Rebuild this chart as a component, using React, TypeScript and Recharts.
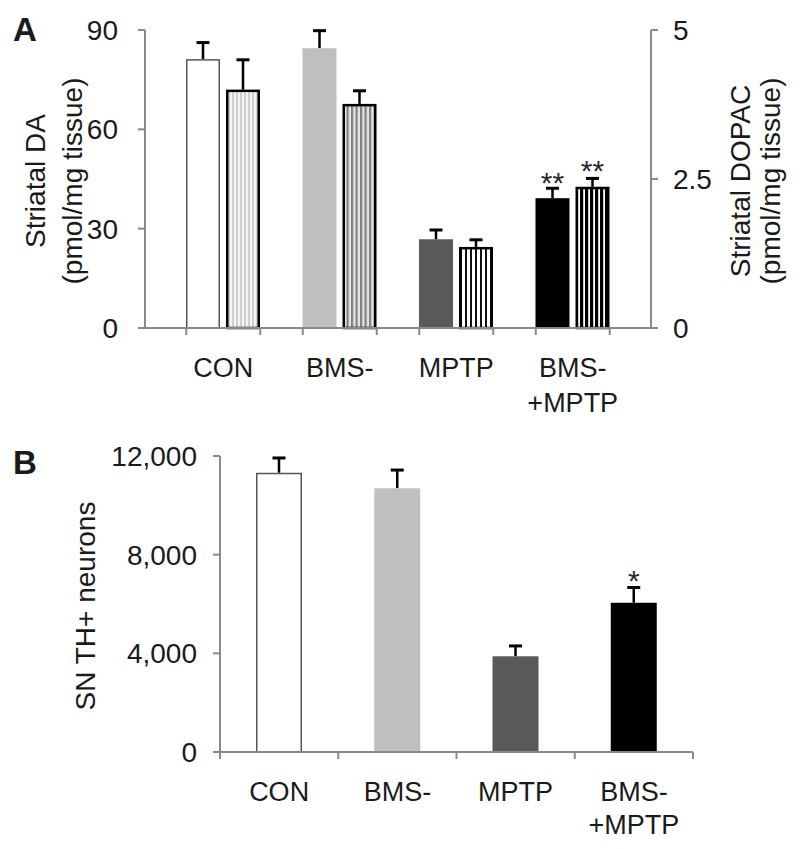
import { Bar, BarChart, Label, XAxis, YAxis } from "recharts";

// Panel A: striatal DA (left axis) and DOPAC (right axis), per treatment group.
// Panel B: SN TH+ neuron counts.
const groups = ["CON", "BMS-", "MPTP", "BMS-\n+MPTP"];

const daValues = [81.2, 84.5, 26.8, 39.2];
const daErrors = [5.0, 5.3, 2.8, 3.0];
const daMarks = ["", "", "", "**"];
const daTicks = [0, 30, 60, 90];

const dopacValues = [4.0, 3.76, 1.36, 2.37];
const dopacErrors = [0.5, 0.22, 0.12, 0.14];
const dopacMarks = ["", "", "", "**"];
const dopacTicks = [0, 2.5, 5];

const thValues = [11320, 10690, 3880, 6050];
const thErrors = [600, 740, 420, 620];
const thMarks = ["", "", "", "*"];
const thTicks = [0, 4000, 8000, 12000];

const FONT = "'Liberation Sans', Arial, Helvetica, sans-serif";
const INK = "#1a1a1a";
const AXIS = "#8a8a8a";
const A_BAR = 34;
const A_GAP = 6;

type BarLook = { fill: string; stroke: string; strokeWidth: number };

const solidLooks: BarLook[] = [
  { fill: "#ffffff", stroke: "#555555", strokeWidth: 1.5 },
  { fill: "#bfbfbf", stroke: "none", strokeWidth: 0 },
  { fill: "#595959", stroke: "none", strokeWidth: 0 },
  { fill: "#000000", stroke: "none", strokeWidth: 0 },
];

const hatchLooks: BarLook[] = [
  { fill: "url(#hatch-con)", stroke: "#000", strokeWidth: 2.5 },
  { fill: "url(#hatch-bms)", stroke: "#000", strokeWidth: 2.5 },
  { fill: "url(#hatch-mptp)", stroke: "#000", strokeWidth: 2.5 },
  { fill: "url(#hatch-both)", stroke: "#000", strokeWidth: 2.5 },
];

const panelA = groups.map((group, i) => ({
  group,
  da: daValues[i],
  dopac: dopacValues[i],
}));

const panelB = groups.map((group, i) => ({
  group,
  pos: i + 0.5,
  th: thValues[i],
}));

const bTicks = Array.from({ length: groups.length * 2 + 1 }, (_, i) => i / 2);

// Bar with an upward-only error bar (and optional significance mark), the
// error length scaled from the bar's own pixel height / value.
function errorBarShape(
  dataKey: string,
  errors: number[],
  marks: string[],
  looks: BarLook[],
  markDy: number,
) {
  return (props: any) => {
    const { x, y, width, height, index, payload } = props;
    const look = looks[index];
    const v = payload[dataKey];
    const errPx = v ? (height / v) * errors[index] : 0;
    const cx = x + width / 2;
    const top = y - errPx;
    const inset = look.strokeWidth / 2;
    return (
      <g>
        <line x1={cx} x2={cx} y1={y} y2={top} stroke="#000" strokeWidth={2.5} />
        <line
          x1={cx - 6.5}
          x2={cx + 6.5}
          y1={top}
          y2={top}
          stroke="#000"
          strokeWidth={3}
        />
        <rect
          x={x + inset}
          y={y + inset}
          width={width - 2 * inset}
          height={Math.max(0, height - inset)}
          fill={look.fill}
          stroke={look.stroke}
          strokeWidth={look.strokeWidth}
        />
        {marks[index] ? (
          <text
            x={cx}
            y={top + markDy}
            textAnchor="middle"
            fontSize={30}
            fill="#2a2a2a"
            fontFamily={FONT}
          >
            {marks[index]}
          </text>
        ) : null}
      </g>
    );
  };
}

function GroupLabel({ x, y, text, lineGap }: { x: number; y: number; text: string; lineGap: number }) {
  return (
    <text textAnchor="middle" fontSize={27} fill={INK} fontFamily={FONT}>
      {text.split("\n").map((line, i) => (
        <tspan key={line} x={x} y={y + 49 + i * lineGap}>
          {line}
        </tspan>
      ))}
    </text>
  );
}

// Panel A: tick marks sit at the outer edges of each bar pair.
function PairTick(props: any) {
  const { x, y, payload } = props;
  const half = A_BAR + A_GAP / 2;
  return (
    <g>
      <line x1={x - half} x2={x - half} y1={y} y2={y + 7} stroke={AXIS} strokeWidth={2} />
      <line x1={x + half} x2={x + half} y1={y} y2={y + 7} stroke={AXIS} strokeWidth={2} />
      <GroupLabel x={x} y={y} text={String(payload.value)} lineGap={35} />
    </g>
  );
}

// Panel B: integer positions are category boundaries (tick marks), half
// positions are category centres (labels).
function BoundaryTick(props: any) {
  const { x, y, payload } = props;
  const v = Number(payload.value);
  if (Number.isInteger(v)) {
    return <line x1={x} x2={x} y1={y} y2={y + 7} stroke={AXIS} strokeWidth={2} />;
  }
  return <GroupLabel x={x} y={y} text={groups[Math.floor(v)]} lineGap={33} />;
}

function AxisTitle({ viewBox, lines, offsets }: { viewBox?: any; lines: string[]; offsets: number[] }) {
  if (!viewBox) return null;
  const cy = viewBox.y + viewBox.height / 2 + 2;
  return (
    <g>
      {lines.map((line, i) => {
        const cx = viewBox.x + offsets[i];
        return (
          <text
            key={line}
            x={cx}
            y={cy}
            transform={`rotate(-90, ${cx}, ${cy})`}
            textAnchor="middle"
            dominantBaseline="central"
            fontSize={28}
            fill={INK}
            fontFamily={FONT}
          >
            {line}
          </text>
        );
      })}
    </g>
  );
}

const axisLine = { stroke: AXIS, strokeWidth: 2 };
const tickLine = { stroke: AXIS, strokeWidth: 2 };
const tickText = { fontSize: 28, fill: INK, fontFamily: FONT };

export default function App() {
  return (
    <div
      style={{
        position: "absolute",
        left: 0,
        top: 0,
        width: 800,
        height: 849,
        background: "#fff",
        fontFamily: FONT,
        color: INK,
      }}
    >
      <svg width={0} height={0} style={{ position: "absolute" }}>
        <defs>
          <pattern id="hatch-con" width={4} height={4} patternUnits="userSpaceOnUse">
            <rect width={4} height={4} fill="#f4f4f4" />
            <rect width={2} height={4} fill="#cfcfcf" />
          </pattern>
          <pattern id="hatch-bms" width={4.5} height={4} patternUnits="userSpaceOnUse">
            <rect width={4.5} height={4} fill="#e6e6e6" />
            <rect width={2.2} height={4} fill="#808080" />
          </pattern>
          <pattern id="hatch-mptp" width={5} height={4} patternUnits="userSpaceOnUse">
            <rect width={5} height={4} fill="#ffffff" />
            <rect width={2} height={4} fill="#111111" />
          </pattern>
          <pattern id="hatch-both" width={5} height={4} patternUnits="userSpaceOnUse">
            <rect width={5} height={4} fill="#ffffff" />
            <rect width={3.2} height={4} fill="#000000" />
          </pattern>
        </defs>
      </svg>

      <div style={{ position: "absolute", left: 13, top: 13, fontSize: 33, fontWeight: 700, lineHeight: 1 }}>
        A
      </div>
      <div style={{ position: "absolute", left: 13, top: 446, fontSize: 33, fontWeight: 700, lineHeight: 1 }}>
        B
      </div>

      <div style={{ position: "absolute", left: 0, top: 0 }}>
        <BarChart
          width={800}
          height={420}
          data={panelA}
          margin={{ top: 30, right: 69, bottom: 22, left: 65 }}
          barSize={A_BAR}
          barGap={A_GAP}
        >
          <XAxis
            dataKey="group"
            padding={{ left: 20, right: 20 }}
            axisLine={axisLine}
            tickLine={false}
            tickSize={0}
            tickMargin={0}
            interval={0}
            height={70}
            tick={(p: any) => <PairTick {...p} />}
          />
          <YAxis
            yAxisId="da"
            domain={[0, 90]}
            ticks={daTicks}
            width={80}
            axisLine={axisLine}
            tickLine={tickLine}
            tickSize={7}
            tickMargin={20}
            tick={tickText}
            label={
              <Label
                content={(p: any) => (
                  <AxisTitle viewBox={p.viewBox} lines={["Striatal DA", "(pmol/mg tissue)"]} offsets={[-30, 7]} />
                )}
              />
            }
          />
          <YAxis
            yAxisId="dopac"
            orientation="right"
            domain={[0, 5]}
            ticks={dopacTicks}
            width={80}
            axisLine={axisLine}
            tickLine={tickLine}
            tickSize={7}
            tickMargin={15}
            tick={tickText}
            label={
              <Label
                content={(p: any) => (
                  <AxisTitle viewBox={p.viewBox} lines={["Striatal DOPAC", "(pmol/mg tissue)"]} offsets={[89, 119]} />
                )}
              />
            }
          />
          <Bar
            yAxisId="da"
            dataKey="da"
            isAnimationActive={false}
            shape={errorBarShape("da", daErrors, daMarks, solidLooks, 5)}
          />
          <Bar
            yAxisId="dopac"
            dataKey="dopac"
            isAnimationActive={false}
            shape={errorBarShape("dopac", dopacErrors, dopacMarks, hatchLooks, 3)}
          />
        </BarChart>
      </div>

      <div style={{ position: "absolute", left: 0, top: 420 }}>
        <BarChart
          width={800}
          height={429}
          data={panelB}
          margin={{ top: 36, right: 107, bottom: 27, left: 130 }}
          barSize={46}
        >
          <XAxis
            dataKey="pos"
            type="number"
            domain={[0, 4]}
            ticks={bTicks}
            interval={0}
            axisLine={axisLine}
            tickLine={false}
            tickSize={0}
            tickMargin={0}
            height={70}
            tick={(p: any) => <BoundaryTick {...p} />}
          />
          <YAxis
            domain={[0, 12000]}
            ticks={thTicks}
            width={90}
            axisLine={axisLine}
            tickLine={tickLine}
            tickSize={7}
            tickMargin={16}
            tick={tickText}
            tickFormatter={(v: number) => v.toLocaleString("en-US")}
            label={
              <Label
                content={(p: any) => (
                  <AxisTitle viewBox={p.viewBox} lines={["SN TH+ neurons"]} offsets={[-45]} />
                )}
              />
            }
          />
          <Bar
            dataKey="th"
            isAnimationActive={false}
            shape={errorBarShape("th", thErrors, thMarks, solidLooks, 4)}
          />
        </BarChart>
      </div>
    </div>
  );
}
